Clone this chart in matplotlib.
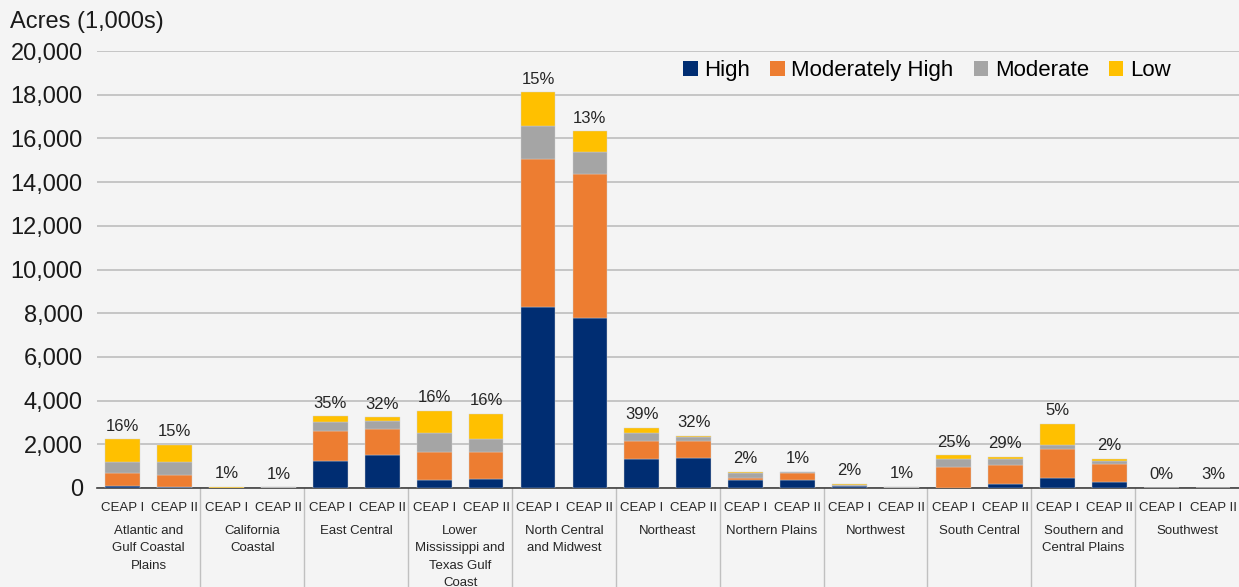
import matplotlib
matplotlib.use("Agg")
import matplotlib.pyplot as plt
import numpy as np
from matplotlib.transforms import blended_transform_factory

plt.rcParams['font.family'] = ['Liberation Sans', 'DejaVu Sans']

regions = ["Atlantic and\nGulf Coastal\nPlains", "California\nCoastal", "East Central",
           "Lower\nMississippi and\nTexas Gulf\nCoast", "North Central\nand Midwest", "Northeast",
           "Northern Plains", "Northwest", "South Central", "Southern and\nCentral Plains", "Southwest"]
periods = ["CEAP I", "CEAP II"]

# values in 1,000s of acres, order: region x (CEAP I, CEAP II)
high = [80, 40, 5, 15, 1240, 1510, 350, 430, 8280, 7780, 1310, 1360,
        370, 370, 90, 10, 10, 180, 460, 260, 0, 0]
mod_high = [620, 570, 5, 5, 1380, 1200, 1310, 1200, 6760, 6590, 830, 780,
            90, 320, 10, 5, 970, 850, 1320, 850, 0, 0]
moderate = [480, 590, 5, 5, 410, 340, 870, 600, 1530, 1010, 360, 210,
            240, 40, 20, 25, 330, 310, 170, 130, 0, 0]
low = [1050, 770, 30, 5, 250, 190, 1010, 1160, 1550, 940, 250, 30,
       30, 0, 60, 5, 190, 80, 980, 90, 5, 20]
pct_labels = ["16%", "15%", "1%", "1%", "35%", "32%", "16%", "16%", "15%", "13%", "39%", "32%",
              "2%", "1%", "2%", "1%", "25%", "29%", "5%", "2%", "0%", "3%"]

series = [("High", high, "#002D72"), ("Moderately High", mod_high, "#ED7D31"),
          ("Moderate", moderate, "#A5A5A5"), ("Low", low, "#FFC000")]

fig = plt.figure(figsize=(12.39, 5.87), dpi=100)
fig.patch.set_facecolor("#f4f4f4")
ax = fig.add_axes([0.078, 0.1687, 0.922, 0.7443])
ax.set_facecolor("none")

n = len(high)
x = np.arange(n)
bottom = np.zeros(n)
for name, vals, col in series:
    v = np.array(vals, dtype=float)
    ax.bar(x, v, bottom=bottom, width=0.67, color=col, label=name, zorder=3,
           edgecolor="#d0d0d0", linewidth=0.3)
    bottom += v

for xi, tot, lab in zip(x, bottom, pct_labels):
    ax.annotate(lab, (xi, tot), xytext=(0, 4), textcoords="offset points",
                ha="center", va="bottom", fontsize=12, color="#262626")

ax.set_xlim(-0.5, n - 0.5)
ax.set_ylim(0, 20000)
ax.set_yticks(np.arange(0, 20001, 2000))
ax.set_yticklabels([f"{v:,}" for v in range(0, 20001, 2000)], fontsize=17, color="#1a1a1a")
ax.yaxis.grid(True, color="#bdbdbd", linewidth=1.2, zorder=0)
ax.set_axisbelow(True)
ax.tick_params(axis="y", length=0, pad=10)
ax.tick_params(axis="x", length=0)
ax.set_xticks([])
for s in ["top", "right", "left"]:
    ax.spines[s].set_visible(False)
ax.spines["bottom"].set_color("#404040")
ax.spines["bottom"].set_linewidth(1.2)

trans = blended_transform_factory(ax.transData, fig.transFigure)
for i in range(n):
    ax.text(x[i], 1 - 508 / 587, periods[i % 2], transform=trans, ha="center", va="center",
            fontsize=9.5, color="#262626")
for g, name in enumerate(regions):
    ax.text(2 * g + 0.5, 1 - 525 / 587, name, transform=trans, ha="center", va="top",
            fontsize=9.5, color="#262626", linespacing=1.6)
    if g > 0:
        ax.plot([2 * g - 0.5, 2 * g - 0.5], [1 - 488 / 587, 0], transform=trans,
                color="#c0c0c0", linewidth=1, clip_on=False)

fig.text(10 / 1239, 1 - 22 / 587, "Acres (1,000s)", fontsize=17, ha="left", va="center",
         color="#1a1a1a")

leg = ax.legend(loc="upper right", bbox_to_anchor=(0.948, 1.0), ncol=4, frameon=False,
                fontsize=16, handlelength=0.65, handleheight=0.65, handletextpad=0.3,
                columnspacing=0.9, borderaxespad=0)
for h in leg.legend_handles:
    h.set_edgecolor("none")

fig.savefig("out.png", dpi=100, facecolor=fig.get_facecolor())
